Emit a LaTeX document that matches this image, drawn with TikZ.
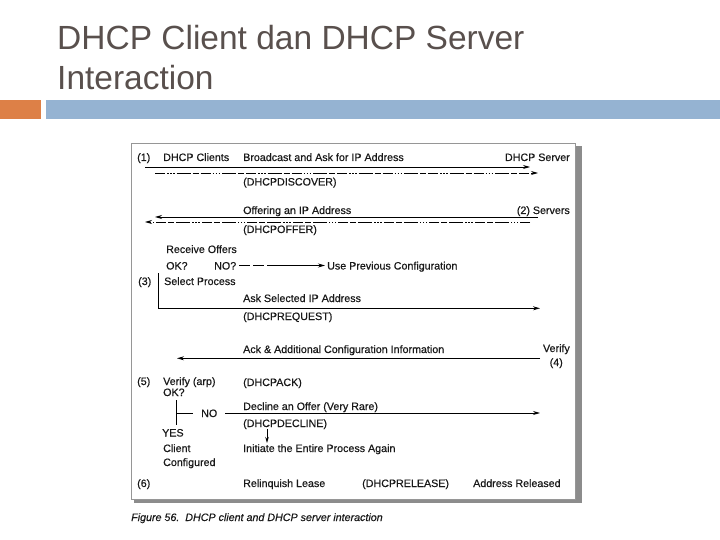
\documentclass[tikz,border=0pt]{standalone}
\usepackage{fontspec}
\setmainfont{Liberation Sans}
\newfontfamily\dfam[FakeBold=0.5]{Liberation Sans}
\usetikzlibrary{arrows.meta}
\definecolor{titlegray}{RGB}{89,80,77}
\definecolor{barorange}{RGB}{221,128,71}
\definecolor{barblue}{RGB}{149,179,210}
\definecolor{shadowgray}{RGB}{140,140,140}
\definecolor{framegray}{RGB}{150,150,150}
\newcommand{\dfont}{\dfam\fontsize{10.7}{12}\selectfont}
\tikzset{
  lbl/.style={anchor=base west, inner sep=0pt, font=\dfont, text=black!90},
  lble/.style={anchor=base east, inner sep=0pt, font=\dfont, text=black!90},
  msg/.style={line width=0.9pt, -{Stealth[length=7pt,width=4pt]}},
  msgdash/.style={msg, dash pattern=on 10pt off 2pt on 1.5pt off 1.5pt on 1.5pt off 1.5pt on 1.5pt off 2pt on 14pt off 2pt on 6pt off 2pt},
  ttl/.style={anchor=base west, inner sep=0pt, font=\fontsize{33.5}{40}\selectfont, text=titlegray}
}
\begin{document}
\begin{tikzpicture}[x=1pt,y=-1pt]
\useasboundingbox (0,0) rectangle (720,540);
% title
\node[ttl] (t1) at (57,50) {DHCP Client dan DHCP Server};
\node[ttl] (t2) at (57,90) {Interaction};
% bars
\fill[barorange] (0,100) rectangle (41,119);
\fill[barblue] (46,100) rectangle (720,119);
% frame with shadow
\fill[shadowgray] (575,146) rectangle (582,503);
\fill[shadowgray] (134,499) rectangle (582,503);
\draw[framegray, line width=0.8pt, fill=white] (131,143) rectangle (575,499);
% row 1
\node[lbl] (n1) at (137,161) {(1)};
\node[lbl] (cl) at (163,161) {DHCP Clients};
\node[lbl] (bc) at (243,161) {Broadcast and Ask for IP Address};
\node[lble] (sv) at (570,161) {DHCP Server};
\coordinate (a1s) at (145,167); \coordinate (a1e) at (530,167);
\coordinate (b1s) at (155,173); \coordinate (b1e) at (538,173);
\draw[msg] (a1s) -- (a1e);
\draw[msgdash] (b1s) -- (b1e);
\node[lbl] (disc) at (243,185.5) {(DHCPDISCOVER)};
% row 2
\node[lbl] (off) at (243,214) {Offering an IP Address};
\node[lble] (svs) at (570,214) {(2) Servers};
\coordinate (a2s) at (538,217); \coordinate (a2e) at (155,217);
\coordinate (b2s) at (530,222); \coordinate (b2e) at (145,222);
\draw[msg] (a2s) -- (a2e);
\draw[msgdash] (b2s) -- (b2e);
\node[lbl] (doff) at (243,233) {(DHCPOFFER)};
% receive offers
\node[lbl] (ro) at (166,253) {Receive Offers};
\node[lbl] (ok1) at (166,269.5) {OK?};
\node[lbl] (no1) at (214,269.5) {NO?};
\node[lbl] (upc) at (327,269.5) {Use Previous Configuration};
\coordinate (nos) at (239,265.5);
\draw[line width=0.9pt, -{Stealth[length=7pt,width=4pt]}, dash pattern=on 11pt off 3pt on 11pt off 3pt on 80pt, shorten >=2pt] (nos) -- (upc.west |- nos);
% (3)
\node[lbl] (n3) at (138,285) {(3)};
\node[lbl] (sp) at (164,285) {Select Process};
\node[lbl] (ask) at (243,302) {Ask Selected IP Address};
\coordinate (v3t) at (158,273); \coordinate (v3b) at (158,308.3);
\coordinate (a3e) at (540,308.3);
\draw[line width=0.9pt] (v3t) -- (v3b);
\draw[msg] (v3b) -- (a3e);
\node[lbl] (req) at (243,320) {(DHCPREQUEST)};
% (4)
\node[lbl] (ack) at (243,353) {Ack \& Additional Configuration Information};
\node[lble] (ver) at (570,352) {Verify};
\node[lble] (n4) at (563,366) {(4)};
\coordinate (a4s) at (540,358.3); \coordinate (a4e) at (177,358.3);
\draw[msg] (a4s) -- (a4e);
% (5)
\node[lbl] (n5) at (137,385) {(5)};
\node[lbl] (va) at (163,385) {Verify (arp)};
\node[lbl] (pack) at (243,386) {(DHCPACK)};
\node[lbl] (ok2) at (163,396) {OK?};
\node[lbl] (dec) at (243,410) {Decline an Offer (Very Rare)};
\coordinate (v5t) at (176,400); \coordinate (v5b) at (176,425);
\coordinate (tk) at (193,413);
\draw[line width=0.9pt] (v5t) -- (v5b);
\draw[line width=0.9pt] (v5t |- tk) -- (tk);
\node[lbl] (no2) at (201,417) {NO};
\coordinate (a5s) at (225,413); \coordinate (a5e) at (540,413);
\draw[msg] (a5s) -- (a5e);
\node[lbl] (pdec) at (243,427) {(DHCPDECLINE)};
\node[lbl] (yes) at (162,436.5) {YES};
\coordinate (d1) at (267,429); \coordinate (d2) at (267,443);
\draw[line width=0.9pt, -{Stealth[length=6pt,width=3.5pt]}] (d1) -- (d2);
\node[lbl] (cli) at (163,452) {Client};
\node[lbl] (cfg) at (163,466) {Configured};
\node[lbl] (ini) at (243,452) {Initiate the Entire Process Again};
% (6)
\node[lbl] (n6) at (137,487) {(6)};
\node[lbl] (rl) at (243,487) {Relinquish Lease};
\node[lbl] (prel) at (362,487) {(DHCPRELEASE)};
\node[lbl] (ar) at (473,487) {Address Released};
% caption
\node[lbl, font=\dfont\itshape] (cap) at (131,521) {Figure 56.\ \ DHCP client and DHCP server interaction};
\end{tikzpicture}
\end{document}
